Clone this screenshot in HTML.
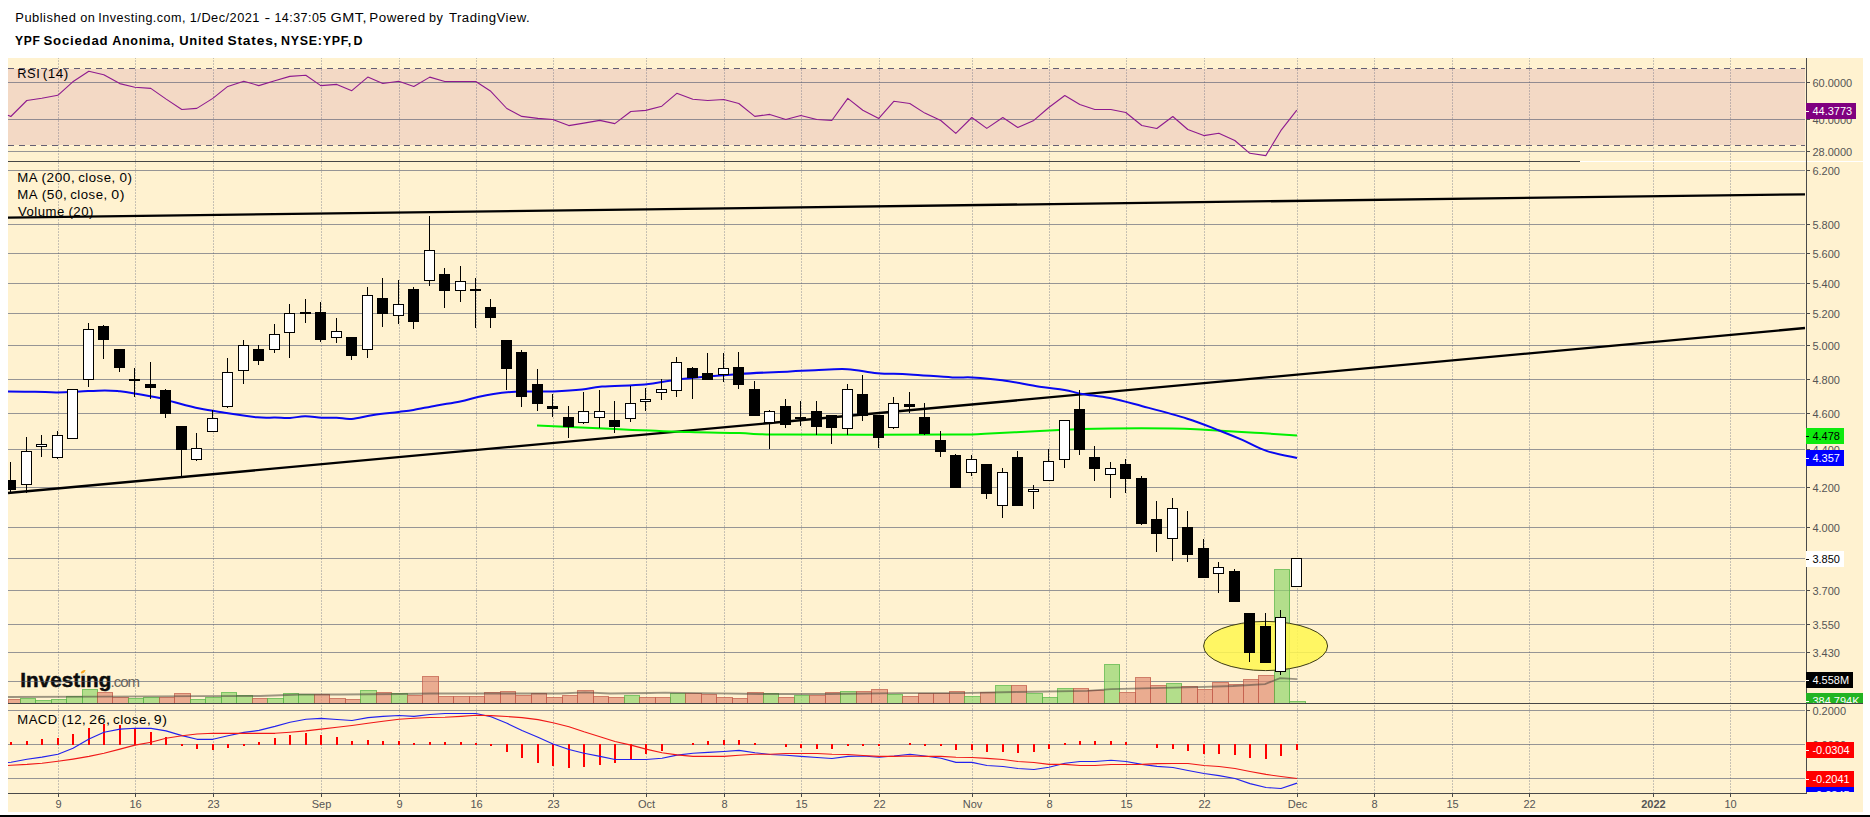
<!DOCTYPE html><html><head><meta charset="utf-8"><title>YPF chart</title><style>html,body{margin:0;padding:0;background:#fff;overflow:hidden}body{width:1870px;height:817px;position:relative}</style></head><body><svg width="1870" height="817" viewBox="0 0 1870 817" style="position:absolute;left:0;top:0;font-family:'Liberation Sans',Arial,sans-serif">
<rect x="0" y="0" width="1870" height="817" fill="#fff"/>
<rect x="8" y="58" width="1855" height="754" fill="#FFF2D0"/>
<rect x="0" y="815" width="1870" height="2" fill="#000"/>
<text x="20.3" y="686.6" font-size="20.6" font-weight="bold" letter-spacing="0.08" fill="#0c0c0c" stroke="#0c0c0c" stroke-width="0.5">Investing</text>
<text x="110.6" y="686.6" font-size="15" letter-spacing="-1.05" fill="#6a665c">.com</text>
<rect x="80.6" y="670.4" width="4.6" height="4.2" fill="#FFF2D0"/>
<path d="M80.8 672.6 C81.6 670.6 83.6 669.6 85.5 670 C85.2 671.8 83.6 673.4 81.2 673.6 Z" fill="#f9a51c"/>
<rect x="8" y="69" width="1797" height="76" fill="#F3D9C5"/>
<g stroke="#4b5473" stroke-opacity="0.37" stroke-width="1" stroke-dasharray="1.7 1.3" stroke-dashoffset="0.8">
<line x1="58.5" y1="58" x2="58.5" y2="793"/>
<line x1="135.5" y1="58" x2="135.5" y2="793"/>
<line x1="213.5" y1="58" x2="213.5" y2="793"/>
<line x1="321.5" y1="58" x2="321.5" y2="793"/>
<line x1="399.5" y1="58" x2="399.5" y2="793"/>
<line x1="476.5" y1="58" x2="476.5" y2="793"/>
<line x1="553.5" y1="58" x2="553.5" y2="793"/>
<line x1="646.5" y1="58" x2="646.5" y2="793"/>
<line x1="724.5" y1="58" x2="724.5" y2="793"/>
<line x1="801.5" y1="58" x2="801.5" y2="793"/>
<line x1="879.5" y1="58" x2="879.5" y2="793"/>
<line x1="972.5" y1="58" x2="972.5" y2="793"/>
<line x1="1049.5" y1="58" x2="1049.5" y2="793"/>
<line x1="1126.5" y1="58" x2="1126.5" y2="793"/>
<line x1="1204.5" y1="58" x2="1204.5" y2="793"/>
<line x1="1297.5" y1="58" x2="1297.5" y2="793"/>
<line x1="1374.5" y1="58" x2="1374.5" y2="793"/>
<line x1="1452.5" y1="58" x2="1452.5" y2="793"/>
<line x1="1529.5" y1="58" x2="1529.5" y2="793"/>
<line x1="1653.5" y1="58" x2="1653.5" y2="793"/>
<line x1="1730.5" y1="58" x2="1730.5" y2="793"/>
</g>
<rect x="8" y="82" width="1797" height="1" fill="rgba(80,86,110,0.6)"/>
<rect x="8" y="119" width="1797" height="1" fill="rgba(80,86,110,0.6)"/>
<rect x="8" y="151" width="1797" height="1" fill="rgba(80,86,110,0.6)"/>
<g stroke="#645f73" stroke-width="1" stroke-dasharray="6 5" shape-rendering="crispEdges">
<line x1="8" y1="68.5" x2="1805" y2="68.5"/><line x1="8" y1="145.5" x2="1805" y2="145.5"/></g>
<rect x="8" y="170" width="1797" height="1" fill="rgba(80,86,110,0.6)"/>
<rect x="8" y="224" width="1797" height="1" fill="rgba(80,86,110,0.6)"/>
<rect x="8" y="253" width="1797" height="1" fill="rgba(80,86,110,0.6)"/>
<rect x="8" y="283" width="1797" height="1" fill="rgba(80,86,110,0.6)"/>
<rect x="8" y="313" width="1797" height="1" fill="rgba(80,86,110,0.6)"/>
<rect x="8" y="345" width="1797" height="1" fill="rgba(80,86,110,0.6)"/>
<rect x="8" y="379" width="1797" height="1" fill="rgba(80,86,110,0.6)"/>
<rect x="8" y="413" width="1797" height="1" fill="rgba(80,86,110,0.6)"/>
<rect x="8" y="449" width="1797" height="1" fill="rgba(80,86,110,0.6)"/>
<rect x="8" y="487" width="1797" height="1" fill="rgba(80,86,110,0.6)"/>
<rect x="8" y="527" width="1797" height="1" fill="rgba(80,86,110,0.6)"/>
<rect x="8" y="558" width="1797" height="1" fill="rgba(80,86,110,0.6)"/>
<rect x="8" y="590" width="1797" height="1" fill="rgba(80,86,110,0.6)"/>
<rect x="8" y="624" width="1797" height="1" fill="rgba(80,86,110,0.6)"/>
<rect x="8" y="652" width="1797" height="1" fill="rgba(80,86,110,0.6)"/>
<rect x="8" y="681" width="1797" height="1" fill="rgba(80,86,110,0.6)"/>
<rect x="8" y="710" width="1797" height="1" fill="rgba(80,86,110,0.6)"/>
<rect x="8" y="744" width="1797" height="1" fill="rgba(80,86,110,0.6)"/>
<rect x="8" y="778" width="1797" height="1" fill="rgba(80,86,110,0.6)"/>
<text y="22" font-size="12" font-weight="normal" letter-spacing="0.45" fill="#000" xml:space="preserve"><tspan id="w0" x="15.38" textLength="60.99" lengthAdjust="spacingAndGlyphs">Published</tspan> <tspan id="w1" x="80.29" textLength="15.17" lengthAdjust="spacingAndGlyphs">on</tspan> <tspan id="w2" x="98.33" textLength="87.60" lengthAdjust="spacingAndGlyphs">Investing.com,</tspan> <tspan id="w3" x="189.78" textLength="70.21" lengthAdjust="spacingAndGlyphs">1/Dec/2021</tspan> <tspan id="w4" x="264.63" textLength="6.28" lengthAdjust="spacingAndGlyphs">-</tspan> <tspan id="w5" x="274.46" textLength="52.29" lengthAdjust="spacingAndGlyphs">14:37:05</tspan> <tspan id="w6" x="330.49" textLength="36.69" lengthAdjust="spacingAndGlyphs">GMT,</tspan> <tspan id="w7" x="369.27" textLength="56.31" lengthAdjust="spacingAndGlyphs">Powered</tspan> <tspan id="w8" x="428.99" textLength="14.30" lengthAdjust="spacingAndGlyphs">by</tspan> <tspan id="w9" x="448.94" textLength="81.24" lengthAdjust="spacingAndGlyphs">TradingView.</tspan></text>
<text y="45" font-size="12" font-weight="bold" letter-spacing="0.7" fill="#000" xml:space="preserve"><tspan id="w10" x="14.98" textLength="25.65" lengthAdjust="spacingAndGlyphs">YPF</tspan> <tspan id="w11" x="43.53" textLength="64.84" lengthAdjust="spacingAndGlyphs">Sociedad</tspan> <tspan id="w12" x="112.17" textLength="62.93" lengthAdjust="spacingAndGlyphs">Anonima,</tspan> <tspan id="w13" x="179.19" textLength="44.94" lengthAdjust="spacingAndGlyphs">United</tspan> <tspan id="w14" x="227.40" textLength="50.86" lengthAdjust="spacingAndGlyphs">States,</tspan> <tspan id="w15" x="281.14" textLength="70.72" lengthAdjust="spacingAndGlyphs">NYSE:YPF,</tspan> <tspan id="w16" x="353.51" textLength="9.74" lengthAdjust="spacingAndGlyphs">D</tspan></text>
<text y="78" font-size="12" font-weight="normal" letter-spacing="0.45" fill="#000" xml:space="preserve"><tspan id="w17" x="17.35" textLength="22.85" lengthAdjust="spacingAndGlyphs">RSI</tspan> <tspan id="w18" x="42.79" textLength="25.98" lengthAdjust="spacingAndGlyphs">(14)</tspan></text>
<text y="182" font-size="12" font-weight="normal" letter-spacing="0.45" fill="#000" xml:space="preserve"><tspan id="w19" x="17.31" textLength="20.06" lengthAdjust="spacingAndGlyphs">MA</tspan> <tspan id="w20" x="41.59" textLength="33.62" lengthAdjust="spacingAndGlyphs">(200,</tspan> <tspan id="w21" x="78.25" textLength="37.38" lengthAdjust="spacingAndGlyphs">close,</tspan> <tspan id="w22" x="119.64" textLength="13.00" lengthAdjust="spacingAndGlyphs">0)</tspan></text>
<text y="199" font-size="12" font-weight="normal" letter-spacing="0.45" fill="#000" xml:space="preserve"><tspan id="w23" x="17.31" textLength="20.06" lengthAdjust="spacingAndGlyphs">MA</tspan> <tspan id="w24" x="41.79" textLength="25.57" lengthAdjust="spacingAndGlyphs">(50,</tspan> <tspan id="w25" x="70.25" textLength="37.38" lengthAdjust="spacingAndGlyphs">close,</tspan> <tspan id="w26" x="111.29" textLength="13.63" lengthAdjust="spacingAndGlyphs">0)</tspan></text>
<text y="216" font-size="12" font-weight="normal" letter-spacing="0.45" fill="#000" xml:space="preserve"><tspan id="w27" x="18.07" textLength="46.72" lengthAdjust="spacingAndGlyphs">Volume</tspan> <tspan id="w28" x="68.43" textLength="25.51" lengthAdjust="spacingAndGlyphs">(20)</tspan></text>
<text y="724" font-size="12" font-weight="normal" letter-spacing="0.45" fill="#000" xml:space="preserve"><tspan id="w29" x="17.34" textLength="40.35" lengthAdjust="spacingAndGlyphs">MACD</tspan> <tspan id="w30" x="61.72" textLength="24.53" lengthAdjust="spacingAndGlyphs">(12,</tspan> <tspan id="w31" x="88.92" textLength="21.69" lengthAdjust="spacingAndGlyphs">26,</tspan> <tspan id="w32" x="113.11" textLength="38.16" lengthAdjust="spacingAndGlyphs">close,</tspan> <tspan id="w33" x="153.88" textLength="13.64" lengthAdjust="spacingAndGlyphs">9)</tspan></text>
<g shape-rendering="crispEdges">
<rect x="8.5" y="699.5" width="12" height="4" fill="#e08a72" fill-opacity="0.68" stroke="#c4604e" stroke-opacity="0.8" stroke-width="1"/>
<rect x="20.5" y="698.5" width="15" height="5" fill="#8fd46a" fill-opacity="0.68" stroke="#5cb84a" stroke-opacity="0.8" stroke-width="1"/>
<rect x="35.5" y="700.5" width="16" height="3" fill="#8fd46a" fill-opacity="0.68" stroke="#5cb84a" stroke-opacity="0.8" stroke-width="1"/>
<rect x="51.5" y="699.5" width="15" height="4" fill="#8fd46a" fill-opacity="0.68" stroke="#5cb84a" stroke-opacity="0.8" stroke-width="1"/>
<rect x="66.5" y="696.5" width="16" height="7" fill="#8fd46a" fill-opacity="0.68" stroke="#5cb84a" stroke-opacity="0.8" stroke-width="1"/>
<rect x="82.5" y="689.5" width="15" height="14" fill="#8fd46a" fill-opacity="0.68" stroke="#5cb84a" stroke-opacity="0.8" stroke-width="1"/>
<rect x="97.5" y="692.5" width="15" height="11" fill="#e08a72" fill-opacity="0.68" stroke="#c4604e" stroke-opacity="0.8" stroke-width="1"/>
<rect x="112.5" y="697.5" width="16" height="6" fill="#e08a72" fill-opacity="0.68" stroke="#c4604e" stroke-opacity="0.8" stroke-width="1"/>
<rect x="128.5" y="698.5" width="15" height="5" fill="#8fd46a" fill-opacity="0.68" stroke="#5cb84a" stroke-opacity="0.8" stroke-width="1"/>
<rect x="143.5" y="697.5" width="16" height="6" fill="#8fd46a" fill-opacity="0.68" stroke="#5cb84a" stroke-opacity="0.8" stroke-width="1"/>
<rect x="159.5" y="697.5" width="15" height="6" fill="#e08a72" fill-opacity="0.68" stroke="#c4604e" stroke-opacity="0.8" stroke-width="1"/>
<rect x="174.5" y="693.5" width="16" height="10" fill="#e08a72" fill-opacity="0.68" stroke="#c4604e" stroke-opacity="0.8" stroke-width="1"/>
<rect x="190.5" y="699.5" width="15" height="4" fill="#8fd46a" fill-opacity="0.68" stroke="#5cb84a" stroke-opacity="0.8" stroke-width="1"/>
<rect x="205.5" y="697.5" width="16" height="6" fill="#8fd46a" fill-opacity="0.68" stroke="#5cb84a" stroke-opacity="0.8" stroke-width="1"/>
<rect x="221.5" y="692.5" width="15" height="11" fill="#8fd46a" fill-opacity="0.68" stroke="#5cb84a" stroke-opacity="0.8" stroke-width="1"/>
<rect x="236.5" y="695.5" width="16" height="8" fill="#8fd46a" fill-opacity="0.68" stroke="#5cb84a" stroke-opacity="0.8" stroke-width="1"/>
<rect x="252.5" y="698.5" width="15" height="5" fill="#e08a72" fill-opacity="0.68" stroke="#c4604e" stroke-opacity="0.8" stroke-width="1"/>
<rect x="267.5" y="698.5" width="16" height="5" fill="#8fd46a" fill-opacity="0.68" stroke="#5cb84a" stroke-opacity="0.8" stroke-width="1"/>
<rect x="283.5" y="693.5" width="15" height="10" fill="#8fd46a" fill-opacity="0.68" stroke="#5cb84a" stroke-opacity="0.8" stroke-width="1"/>
<rect x="298.5" y="694.5" width="16" height="9" fill="#8fd46a" fill-opacity="0.68" stroke="#5cb84a" stroke-opacity="0.8" stroke-width="1"/>
<rect x="314.5" y="694.5" width="15" height="9" fill="#e08a72" fill-opacity="0.68" stroke="#c4604e" stroke-opacity="0.8" stroke-width="1"/>
<rect x="329.5" y="698.5" width="16" height="5" fill="#e08a72" fill-opacity="0.68" stroke="#c4604e" stroke-opacity="0.8" stroke-width="1"/>
<rect x="345.5" y="699.5" width="15" height="4" fill="#e08a72" fill-opacity="0.68" stroke="#c4604e" stroke-opacity="0.8" stroke-width="1"/>
<rect x="360.5" y="690.5" width="16" height="13" fill="#8fd46a" fill-opacity="0.68" stroke="#5cb84a" stroke-opacity="0.8" stroke-width="1"/>
<rect x="376.5" y="692.5" width="15" height="11" fill="#e08a72" fill-opacity="0.68" stroke="#c4604e" stroke-opacity="0.8" stroke-width="1"/>
<rect x="391.5" y="693.5" width="16" height="10" fill="#8fd46a" fill-opacity="0.68" stroke="#5cb84a" stroke-opacity="0.8" stroke-width="1"/>
<rect x="407.5" y="695.5" width="15" height="8" fill="#e08a72" fill-opacity="0.68" stroke="#c4604e" stroke-opacity="0.8" stroke-width="1"/>
<rect x="422.5" y="676.5" width="16" height="27" fill="#e08a72" fill-opacity="0.68" stroke="#c4604e" stroke-opacity="0.8" stroke-width="1"/>
<rect x="438.5" y="696.5" width="15" height="7" fill="#e08a72" fill-opacity="0.68" stroke="#c4604e" stroke-opacity="0.8" stroke-width="1"/>
<rect x="453.5" y="696.5" width="16" height="7" fill="#e08a72" fill-opacity="0.68" stroke="#c4604e" stroke-opacity="0.8" stroke-width="1"/>
<rect x="469.5" y="696.5" width="15" height="7" fill="#e08a72" fill-opacity="0.68" stroke="#c4604e" stroke-opacity="0.8" stroke-width="1"/>
<rect x="484.5" y="692.5" width="16" height="11" fill="#e08a72" fill-opacity="0.68" stroke="#c4604e" stroke-opacity="0.8" stroke-width="1"/>
<rect x="500.5" y="691.5" width="15" height="12" fill="#e08a72" fill-opacity="0.68" stroke="#c4604e" stroke-opacity="0.8" stroke-width="1"/>
<rect x="515.5" y="695.5" width="16" height="8" fill="#e08a72" fill-opacity="0.68" stroke="#c4604e" stroke-opacity="0.8" stroke-width="1"/>
<rect x="531.5" y="693.5" width="15" height="10" fill="#e08a72" fill-opacity="0.68" stroke="#c4604e" stroke-opacity="0.8" stroke-width="1"/>
<rect x="546.5" y="697.5" width="16" height="6" fill="#e08a72" fill-opacity="0.68" stroke="#c4604e" stroke-opacity="0.8" stroke-width="1"/>
<rect x="562.5" y="695.5" width="15" height="8" fill="#e08a72" fill-opacity="0.68" stroke="#c4604e" stroke-opacity="0.8" stroke-width="1"/>
<rect x="577.5" y="690.5" width="16" height="13" fill="#e08a72" fill-opacity="0.68" stroke="#c4604e" stroke-opacity="0.8" stroke-width="1"/>
<rect x="593.5" y="696.5" width="15" height="7" fill="#e08a72" fill-opacity="0.68" stroke="#c4604e" stroke-opacity="0.8" stroke-width="1"/>
<rect x="608.5" y="697.5" width="16" height="6" fill="#e08a72" fill-opacity="0.68" stroke="#c4604e" stroke-opacity="0.8" stroke-width="1"/>
<rect x="624.5" y="695.5" width="15" height="8" fill="#8fd46a" fill-opacity="0.68" stroke="#5cb84a" stroke-opacity="0.8" stroke-width="1"/>
<rect x="639.5" y="697.5" width="16" height="6" fill="#e08a72" fill-opacity="0.68" stroke="#c4604e" stroke-opacity="0.8" stroke-width="1"/>
<rect x="655.5" y="697.5" width="15" height="6" fill="#e08a72" fill-opacity="0.68" stroke="#c4604e" stroke-opacity="0.8" stroke-width="1"/>
<rect x="670.5" y="693.5" width="15" height="10" fill="#8fd46a" fill-opacity="0.68" stroke="#5cb84a" stroke-opacity="0.8" stroke-width="1"/>
<rect x="685.5" y="693.5" width="16" height="10" fill="#e08a72" fill-opacity="0.68" stroke="#c4604e" stroke-opacity="0.8" stroke-width="1"/>
<rect x="701.5" y="694.5" width="15" height="9" fill="#e08a72" fill-opacity="0.68" stroke="#c4604e" stroke-opacity="0.8" stroke-width="1"/>
<rect x="716.5" y="697.5" width="16" height="6" fill="#e08a72" fill-opacity="0.68" stroke="#c4604e" stroke-opacity="0.8" stroke-width="1"/>
<rect x="732.5" y="698.5" width="15" height="5" fill="#e08a72" fill-opacity="0.68" stroke="#c4604e" stroke-opacity="0.8" stroke-width="1"/>
<rect x="747.5" y="692.5" width="16" height="11" fill="#e08a72" fill-opacity="0.68" stroke="#c4604e" stroke-opacity="0.8" stroke-width="1"/>
<rect x="763.5" y="693.5" width="15" height="10" fill="#8fd46a" fill-opacity="0.68" stroke="#5cb84a" stroke-opacity="0.8" stroke-width="1"/>
<rect x="778.5" y="697.5" width="16" height="6" fill="#e08a72" fill-opacity="0.68" stroke="#c4604e" stroke-opacity="0.8" stroke-width="1"/>
<rect x="794.5" y="695.5" width="15" height="8" fill="#8fd46a" fill-opacity="0.68" stroke="#5cb84a" stroke-opacity="0.8" stroke-width="1"/>
<rect x="809.5" y="695.5" width="16" height="8" fill="#e08a72" fill-opacity="0.68" stroke="#c4604e" stroke-opacity="0.8" stroke-width="1"/>
<rect x="825.5" y="692.5" width="15" height="11" fill="#e08a72" fill-opacity="0.68" stroke="#c4604e" stroke-opacity="0.8" stroke-width="1"/>
<rect x="840.5" y="691.5" width="16" height="12" fill="#8fd46a" fill-opacity="0.68" stroke="#5cb84a" stroke-opacity="0.8" stroke-width="1"/>
<rect x="856.5" y="691.5" width="15" height="12" fill="#e08a72" fill-opacity="0.68" stroke="#c4604e" stroke-opacity="0.8" stroke-width="1"/>
<rect x="871.5" y="689.5" width="16" height="14" fill="#e08a72" fill-opacity="0.68" stroke="#c4604e" stroke-opacity="0.8" stroke-width="1"/>
<rect x="887.5" y="694.5" width="15" height="9" fill="#8fd46a" fill-opacity="0.68" stroke="#5cb84a" stroke-opacity="0.8" stroke-width="1"/>
<rect x="902.5" y="696.5" width="16" height="7" fill="#e08a72" fill-opacity="0.68" stroke="#c4604e" stroke-opacity="0.8" stroke-width="1"/>
<rect x="918.5" y="693.5" width="15" height="10" fill="#e08a72" fill-opacity="0.68" stroke="#c4604e" stroke-opacity="0.8" stroke-width="1"/>
<rect x="933.5" y="693.5" width="16" height="10" fill="#e08a72" fill-opacity="0.68" stroke="#c4604e" stroke-opacity="0.8" stroke-width="1"/>
<rect x="949.5" y="691.5" width="15" height="12" fill="#e08a72" fill-opacity="0.68" stroke="#c4604e" stroke-opacity="0.8" stroke-width="1"/>
<rect x="964.5" y="696.5" width="16" height="7" fill="#8fd46a" fill-opacity="0.68" stroke="#5cb84a" stroke-opacity="0.8" stroke-width="1"/>
<rect x="980.5" y="692.5" width="15" height="11" fill="#e08a72" fill-opacity="0.68" stroke="#c4604e" stroke-opacity="0.8" stroke-width="1"/>
<rect x="995.5" y="685.5" width="16" height="18" fill="#8fd46a" fill-opacity="0.68" stroke="#5cb84a" stroke-opacity="0.8" stroke-width="1"/>
<rect x="1011.5" y="685.5" width="15" height="18" fill="#e08a72" fill-opacity="0.68" stroke="#c4604e" stroke-opacity="0.8" stroke-width="1"/>
<rect x="1026.5" y="693.5" width="16" height="10" fill="#8fd46a" fill-opacity="0.68" stroke="#5cb84a" stroke-opacity="0.8" stroke-width="1"/>
<rect x="1042.5" y="697.5" width="15" height="6" fill="#8fd46a" fill-opacity="0.68" stroke="#5cb84a" stroke-opacity="0.8" stroke-width="1"/>
<rect x="1057.5" y="688.5" width="16" height="15" fill="#8fd46a" fill-opacity="0.68" stroke="#5cb84a" stroke-opacity="0.8" stroke-width="1"/>
<rect x="1073.5" y="688.5" width="15" height="15" fill="#e08a72" fill-opacity="0.68" stroke="#c4604e" stroke-opacity="0.8" stroke-width="1"/>
<rect x="1088.5" y="690.5" width="16" height="13" fill="#e08a72" fill-opacity="0.68" stroke="#c4604e" stroke-opacity="0.8" stroke-width="1"/>
<rect x="1104.5" y="664.5" width="15" height="39" fill="#8fd46a" fill-opacity="0.68" stroke="#5cb84a" stroke-opacity="0.8" stroke-width="1"/>
<rect x="1119.5" y="692.5" width="16" height="11" fill="#e08a72" fill-opacity="0.68" stroke="#c4604e" stroke-opacity="0.8" stroke-width="1"/>
<rect x="1135.5" y="677.5" width="15" height="26" fill="#e08a72" fill-opacity="0.68" stroke="#c4604e" stroke-opacity="0.8" stroke-width="1"/>
<rect x="1150.5" y="685.5" width="16" height="18" fill="#e08a72" fill-opacity="0.68" stroke="#c4604e" stroke-opacity="0.8" stroke-width="1"/>
<rect x="1166.5" y="683.5" width="15" height="20" fill="#8fd46a" fill-opacity="0.68" stroke="#5cb84a" stroke-opacity="0.8" stroke-width="1"/>
<rect x="1181.5" y="686.5" width="16" height="17" fill="#e08a72" fill-opacity="0.68" stroke="#c4604e" stroke-opacity="0.8" stroke-width="1"/>
<rect x="1197.5" y="689.5" width="15" height="14" fill="#e08a72" fill-opacity="0.68" stroke="#c4604e" stroke-opacity="0.8" stroke-width="1"/>
<rect x="1212.5" y="682.5" width="16" height="21" fill="#e08a72" fill-opacity="0.68" stroke="#c4604e" stroke-opacity="0.8" stroke-width="1"/>
<rect x="1228.5" y="684.5" width="15" height="19" fill="#e08a72" fill-opacity="0.68" stroke="#c4604e" stroke-opacity="0.8" stroke-width="1"/>
<rect x="1243.5" y="679.5" width="15" height="24" fill="#e08a72" fill-opacity="0.68" stroke="#c4604e" stroke-opacity="0.8" stroke-width="1"/>
<rect x="1258.5" y="675.5" width="16" height="28" fill="#e08a72" fill-opacity="0.68" stroke="#c4604e" stroke-opacity="0.8" stroke-width="1"/>
<rect x="1274.5" y="569.5" width="15" height="134" fill="#8fd46a" fill-opacity="0.68" stroke="#5cb84a" stroke-opacity="0.8" stroke-width="1"/>
<rect x="1289.5" y="701.5" width="16" height="2" fill="#8fd46a" fill-opacity="0.68" stroke="#5cb84a" stroke-opacity="0.8" stroke-width="1"/>
</g>
<polyline fill="none" stroke="#4a473e" stroke-opacity="0.55" stroke-width="1.8" points="8,697 100,696.6 200,696.2 260,696 300,694.5 340,694.5 400,694 430,693.5 560,693.5 585,692.3 610,693.5 650,693 665,692.6 700,693.2 760,694 830,694 900,693.2 960,693.2 1015,692 1087,690.8 1111,689.2 1142,688.3 1196,687.2 1233,686 1265,684.1 1280,678.1 1297,679.2"/>
<ellipse cx="1265.6" cy="646" rx="62" ry="24.6" fill="#fff750" fill-opacity="0.86" stroke="#3c3a18" stroke-width="1"/>
<line x1="8" y1="217.6" x2="1805" y2="194.3" stroke="#000" stroke-width="2.3"/>
<line x1="8" y1="493" x2="1805" y2="328" stroke="#000" stroke-width="2.3"/>
<path d="M537,425.4 C543.8,425.7 561.0,426.5 575,427.2 C589.0,427.9 601.3,428.5 614.8,429.1 C628.3,429.7 636.5,430.1 650,430.6 C663.5,431.1 673.6,431.7 689.7,432.1 C705.8,432.6 722.5,432.7 739.6,433.1 C756.7,433.6 746.3,434.3 784.6,434.6 C822.9,434.9 915.4,434.8 952.3,434.6 C989.2,434.4 974.0,434.0 989.7,433.4 C1005.4,432.8 1023.9,431.8 1039.6,431.1 C1055.3,430.4 1064.3,429.8 1077,429.3 C1089.7,428.8 1092.8,428.6 1110,428.4 C1127.2,428.2 1155.3,428.2 1172.4,428.4 C1189.5,428.6 1190.0,428.9 1204.8,429.7 C1219.6,430.5 1238.1,431.7 1254.7,432.7 C1271.3,433.7 1289.4,434.9 1297,435.4" fill="none" stroke="#00f000" stroke-width="2" stroke-linecap="butt"/>
<path d="M8,391.6 C12.9,391.6 26.1,391.7 35,391.8 C43.9,391.9 49.3,392.5 57.4,392.4 C65.5,392.3 71.5,391.9 80,391.5 C88.5,391.1 97.6,390.4 104.8,390.4 C112.0,390.4 114.6,390.8 120,391.3 C125.4,391.8 127.6,392.2 134.8,393.4 C142.0,394.6 152.6,396.5 159.8,398.1 C167.0,399.7 167.5,400.4 174.7,402.3 C181.9,404.2 190.7,406.7 199.7,408.6 C208.7,410.5 214.4,411.2 224.7,412.8 C235.0,414.4 248.0,416.4 257.1,417.3 C266.2,418.2 269.1,417.5 275,417.6 C280.9,417.7 284.6,418.3 290,418 C295.4,417.7 299.3,416.3 305,416.2 C310.7,416.1 316.0,417.4 321.7,417.7 C327.4,418.0 331.3,417.5 336.7,417.7 C342.1,417.9 345.1,419.4 351.7,418.9 C358.3,418.4 365.0,416.2 373.4,415 C381.8,413.8 391.2,412.9 398.4,412 C405.6,411.1 406.6,411.2 413.5,410 C420.4,408.8 428.4,406.9 436.8,405.4 C445.2,403.9 453.0,402.9 460.2,401.4 C467.4,399.9 470.9,398.6 476.9,397.2 C482.9,395.8 486.6,394.9 493.5,393.9 C500.4,392.9 507.4,392.1 515.2,391.7 C523.0,391.2 530.1,391.5 537,391.4 C543.9,391.3 545.5,391.8 553.6,391.4 C561.7,391.0 573.3,390.3 582,389.4 C590.7,388.5 590.7,387.5 602,386.6 C613.3,385.7 632.6,385.5 644.8,384.4 C657.0,383.3 661.6,381.8 669.7,380.7 C677.8,379.6 677.1,379.4 689.7,378.2 C702.3,377.0 721.5,375.1 739.6,373.9 C757.7,372.7 776.4,372.2 790,371.5 C803.6,370.8 804.7,370.6 815,370.2 C825.3,369.8 836.2,368.7 847.4,369.2 C858.6,369.7 866.2,372.3 877.4,373.2 C888.6,374.1 896.3,373.6 909.8,374.4 C923.3,375.2 941.1,376.9 952.3,377.4 C963.5,377.9 963.2,376.9 972.2,377.4 C981.2,377.9 990.1,378.5 1002.2,380.2 C1014.3,381.9 1028.4,385.0 1039.6,386.7 C1050.8,388.4 1057.0,388.6 1064.6,389.9 C1072.2,391.2 1073.8,392.4 1082,393.9 C1090.2,395.4 1099.1,395.8 1110,398 C1120.9,400.2 1128.5,402.5 1142.4,406.2 C1156.3,409.9 1173.4,414.3 1187.3,418.7 C1201.2,423.1 1209.9,426.9 1219.8,430.7 C1229.7,434.5 1233.8,436.2 1242.3,439.9 C1250.8,443.6 1257.4,447.9 1267.2,451.1 C1277.0,454.3 1291.6,456.7 1297,457.9" fill="none" stroke="#0808f0" stroke-width="2" stroke-linecap="butt"/>
<g shape-rendering="crispEdges">
<rect x="10" y="462" width="1" height="32" fill="#000"/>
<rect x="8" y="480" width="8" height="10" fill="#000"/>
<rect x="26" y="437" width="1" height="56" fill="#000"/>
<rect x="21" y="451" width="11" height="34" fill="#000"/>
<rect x="22" y="452" width="9" height="32" fill="#fff"/>
<rect x="41" y="435" width="1" height="22" fill="#000"/>
<rect x="36" y="444" width="11" height="3" fill="#000"/>
<rect x="37" y="445" width="9" height="1" fill="#fff"/>
<rect x="57" y="431" width="1" height="28" fill="#000"/>
<rect x="52" y="435" width="11" height="23" fill="#000"/>
<rect x="53" y="436" width="9" height="21" fill="#fff"/>
<rect x="72" y="389" width="1" height="50" fill="#000"/>
<rect x="67" y="389" width="11" height="50" fill="#000"/>
<rect x="68" y="390" width="9" height="48" fill="#fff"/>
<rect x="88" y="323" width="1" height="64" fill="#000"/>
<rect x="83" y="329" width="11" height="51" fill="#000"/>
<rect x="84" y="330" width="9" height="49" fill="#fff"/>
<rect x="103" y="325" width="1" height="34" fill="#000"/>
<rect x="98" y="326" width="11" height="14" fill="#000"/>
<rect x="119" y="349" width="1" height="23" fill="#000"/>
<rect x="114" y="349" width="11" height="19" fill="#000"/>
<rect x="134" y="368" width="1" height="29" fill="#000"/>
<rect x="129" y="379" width="11" height="2" fill="#000"/>
<rect x="150" y="362" width="1" height="37" fill="#000"/>
<rect x="145" y="384" width="11" height="4" fill="#000"/>
<rect x="165" y="389" width="1" height="29" fill="#000"/>
<rect x="160" y="390" width="11" height="24" fill="#000"/>
<rect x="181" y="426" width="1" height="51" fill="#000"/>
<rect x="176" y="426" width="11" height="24" fill="#000"/>
<rect x="196" y="433" width="1" height="28" fill="#000"/>
<rect x="191" y="448" width="11" height="12" fill="#000"/>
<rect x="192" y="449" width="9" height="10" fill="#fff"/>
<rect x="212" y="410" width="1" height="22" fill="#000"/>
<rect x="207" y="418" width="11" height="14" fill="#000"/>
<rect x="208" y="419" width="9" height="12" fill="#fff"/>
<rect x="227" y="358" width="1" height="50" fill="#000"/>
<rect x="222" y="372" width="11" height="35" fill="#000"/>
<rect x="223" y="373" width="9" height="33" fill="#fff"/>
<rect x="243" y="340" width="1" height="44" fill="#000"/>
<rect x="238" y="345" width="11" height="26" fill="#000"/>
<rect x="239" y="346" width="9" height="24" fill="#fff"/>
<rect x="258" y="345" width="1" height="20" fill="#000"/>
<rect x="253" y="349" width="11" height="12" fill="#000"/>
<rect x="274" y="324" width="1" height="29" fill="#000"/>
<rect x="269" y="334" width="11" height="16" fill="#000"/>
<rect x="270" y="335" width="9" height="14" fill="#fff"/>
<rect x="289" y="304" width="1" height="54" fill="#000"/>
<rect x="284" y="313" width="11" height="20" fill="#000"/>
<rect x="285" y="314" width="9" height="18" fill="#fff"/>
<rect x="305" y="299" width="1" height="24" fill="#000"/>
<rect x="300" y="312" width="11" height="2" fill="#000"/>
<rect x="320" y="302" width="1" height="40" fill="#000"/>
<rect x="315" y="312" width="11" height="28" fill="#000"/>
<rect x="336" y="318" width="1" height="25" fill="#000"/>
<rect x="331" y="331" width="11" height="7" fill="#000"/>
<rect x="332" y="332" width="9" height="5" fill="#fff"/>
<rect x="351" y="337" width="1" height="23" fill="#000"/>
<rect x="346" y="337" width="11" height="19" fill="#000"/>
<rect x="367" y="287" width="1" height="71" fill="#000"/>
<rect x="362" y="295" width="11" height="55" fill="#000"/>
<rect x="363" y="296" width="9" height="53" fill="#fff"/>
<rect x="382" y="278" width="1" height="49" fill="#000"/>
<rect x="377" y="298" width="11" height="16" fill="#000"/>
<rect x="398" y="280" width="1" height="44" fill="#000"/>
<rect x="393" y="304" width="11" height="12" fill="#000"/>
<rect x="394" y="305" width="9" height="10" fill="#fff"/>
<rect x="413" y="287" width="1" height="42" fill="#000"/>
<rect x="408" y="289" width="11" height="33" fill="#000"/>
<rect x="429" y="216" width="1" height="70" fill="#000"/>
<rect x="424" y="250" width="11" height="31" fill="#000"/>
<rect x="425" y="251" width="9" height="29" fill="#fff"/>
<rect x="444" y="268" width="1" height="40" fill="#000"/>
<rect x="439" y="274" width="11" height="17" fill="#000"/>
<rect x="460" y="266" width="1" height="36" fill="#000"/>
<rect x="455" y="281" width="11" height="10" fill="#000"/>
<rect x="456" y="282" width="9" height="8" fill="#fff"/>
<rect x="475" y="278" width="1" height="50" fill="#000"/>
<rect x="470" y="289" width="11" height="2" fill="#000"/>
<rect x="490" y="299" width="1" height="29" fill="#000"/>
<rect x="485" y="307" width="11" height="11" fill="#000"/>
<rect x="506" y="340" width="1" height="50" fill="#000"/>
<rect x="501" y="340" width="11" height="29" fill="#000"/>
<rect x="521" y="350" width="1" height="57" fill="#000"/>
<rect x="516" y="352" width="11" height="45" fill="#000"/>
<rect x="537" y="369" width="1" height="42" fill="#000"/>
<rect x="532" y="384" width="11" height="20" fill="#000"/>
<rect x="552" y="394" width="1" height="23" fill="#000"/>
<rect x="547" y="406" width="11" height="3" fill="#000"/>
<rect x="568" y="406" width="1" height="32" fill="#000"/>
<rect x="563" y="417" width="11" height="10" fill="#000"/>
<rect x="583" y="392" width="1" height="32" fill="#000"/>
<rect x="578" y="411" width="11" height="12" fill="#000"/>
<rect x="579" y="412" width="9" height="10" fill="#fff"/>
<rect x="599" y="390" width="1" height="38" fill="#000"/>
<rect x="594" y="411" width="11" height="7" fill="#000"/>
<rect x="595" y="412" width="9" height="5" fill="#fff"/>
<rect x="614" y="401" width="1" height="32" fill="#000"/>
<rect x="609" y="420" width="11" height="7" fill="#000"/>
<rect x="630" y="386" width="1" height="36" fill="#000"/>
<rect x="625" y="403" width="11" height="16" fill="#000"/>
<rect x="626" y="404" width="9" height="14" fill="#fff"/>
<rect x="645" y="388" width="1" height="23" fill="#000"/>
<rect x="640" y="399" width="11" height="3" fill="#000"/>
<rect x="641" y="400" width="9" height="1" fill="#fff"/>
<rect x="661" y="379" width="1" height="21" fill="#000"/>
<rect x="656" y="389" width="11" height="4" fill="#000"/>
<rect x="657" y="390" width="9" height="2" fill="#fff"/>
<rect x="676" y="357" width="1" height="40" fill="#000"/>
<rect x="671" y="362" width="11" height="29" fill="#000"/>
<rect x="672" y="363" width="9" height="27" fill="#fff"/>
<rect x="692" y="367" width="1" height="32" fill="#000"/>
<rect x="687" y="368" width="11" height="10" fill="#000"/>
<rect x="707" y="353" width="1" height="27" fill="#000"/>
<rect x="702" y="373" width="11" height="7" fill="#000"/>
<rect x="723" y="353" width="1" height="29" fill="#000"/>
<rect x="718" y="368" width="11" height="7" fill="#000"/>
<rect x="719" y="369" width="9" height="5" fill="#fff"/>
<rect x="738" y="352" width="1" height="37" fill="#000"/>
<rect x="733" y="367" width="11" height="18" fill="#000"/>
<rect x="754" y="381" width="1" height="35" fill="#000"/>
<rect x="749" y="389" width="11" height="27" fill="#000"/>
<rect x="769" y="410" width="1" height="39" fill="#000"/>
<rect x="764" y="411" width="11" height="12" fill="#000"/>
<rect x="765" y="412" width="9" height="10" fill="#fff"/>
<rect x="785" y="399" width="1" height="29" fill="#000"/>
<rect x="780" y="406" width="11" height="19" fill="#000"/>
<rect x="800" y="401" width="1" height="25" fill="#000"/>
<rect x="795" y="417" width="11" height="2" fill="#000"/>
<rect x="816" y="401" width="1" height="34" fill="#000"/>
<rect x="811" y="411" width="11" height="16" fill="#000"/>
<rect x="831" y="415" width="1" height="29" fill="#000"/>
<rect x="826" y="415" width="11" height="13" fill="#000"/>
<rect x="847" y="384" width="1" height="51" fill="#000"/>
<rect x="842" y="389" width="11" height="40" fill="#000"/>
<rect x="843" y="390" width="9" height="38" fill="#fff"/>
<rect x="862" y="375" width="1" height="46" fill="#000"/>
<rect x="857" y="394" width="11" height="22" fill="#000"/>
<rect x="878" y="415" width="1" height="33" fill="#000"/>
<rect x="873" y="415" width="11" height="23" fill="#000"/>
<rect x="893" y="397" width="1" height="32" fill="#000"/>
<rect x="888" y="403" width="11" height="25" fill="#000"/>
<rect x="889" y="404" width="9" height="23" fill="#fff"/>
<rect x="909" y="392" width="1" height="21" fill="#000"/>
<rect x="904" y="404" width="11" height="3" fill="#000"/>
<rect x="924" y="403" width="1" height="32" fill="#000"/>
<rect x="919" y="417" width="11" height="17" fill="#000"/>
<rect x="940" y="431" width="1" height="26" fill="#000"/>
<rect x="935" y="440" width="11" height="12" fill="#000"/>
<rect x="955" y="454" width="1" height="34" fill="#000"/>
<rect x="950" y="455" width="11" height="33" fill="#000"/>
<rect x="971" y="455" width="1" height="21" fill="#000"/>
<rect x="966" y="459" width="11" height="14" fill="#000"/>
<rect x="967" y="460" width="9" height="12" fill="#fff"/>
<rect x="986" y="464" width="1" height="35" fill="#000"/>
<rect x="981" y="464" width="11" height="30" fill="#000"/>
<rect x="1002" y="468" width="1" height="50" fill="#000"/>
<rect x="997" y="472" width="11" height="34" fill="#000"/>
<rect x="998" y="473" width="9" height="32" fill="#fff"/>
<rect x="1017" y="451" width="1" height="55" fill="#000"/>
<rect x="1012" y="457" width="11" height="49" fill="#000"/>
<rect x="1033" y="485" width="1" height="24" fill="#000"/>
<rect x="1028" y="489" width="11" height="3" fill="#000"/>
<rect x="1029" y="490" width="9" height="1" fill="#fff"/>
<rect x="1048" y="449" width="1" height="32" fill="#000"/>
<rect x="1043" y="461" width="11" height="20" fill="#000"/>
<rect x="1044" y="462" width="9" height="18" fill="#fff"/>
<rect x="1064" y="420" width="1" height="48" fill="#000"/>
<rect x="1059" y="420" width="11" height="40" fill="#000"/>
<rect x="1060" y="421" width="9" height="38" fill="#fff"/>
<rect x="1079" y="390" width="1" height="65" fill="#000"/>
<rect x="1074" y="409" width="11" height="41" fill="#000"/>
<rect x="1094" y="446" width="1" height="35" fill="#000"/>
<rect x="1089" y="457" width="11" height="12" fill="#000"/>
<rect x="1110" y="462" width="1" height="36" fill="#000"/>
<rect x="1105" y="468" width="11" height="7" fill="#000"/>
<rect x="1106" y="469" width="9" height="5" fill="#fff"/>
<rect x="1125" y="459" width="1" height="34" fill="#000"/>
<rect x="1120" y="464" width="11" height="15" fill="#000"/>
<rect x="1141" y="476" width="1" height="49" fill="#000"/>
<rect x="1136" y="478" width="11" height="46" fill="#000"/>
<rect x="1156" y="501" width="1" height="51" fill="#000"/>
<rect x="1151" y="519" width="11" height="15" fill="#000"/>
<rect x="1172" y="498" width="1" height="63" fill="#000"/>
<rect x="1167" y="508" width="11" height="31" fill="#000"/>
<rect x="1168" y="509" width="9" height="29" fill="#fff"/>
<rect x="1187" y="511" width="1" height="51" fill="#000"/>
<rect x="1182" y="527" width="11" height="28" fill="#000"/>
<rect x="1203" y="539" width="1" height="39" fill="#000"/>
<rect x="1198" y="548" width="11" height="30" fill="#000"/>
<rect x="1218" y="562" width="1" height="31" fill="#000"/>
<rect x="1213" y="567" width="11" height="7" fill="#000"/>
<rect x="1214" y="568" width="9" height="5" fill="#fff"/>
<rect x="1234" y="569" width="1" height="33" fill="#000"/>
<rect x="1229" y="571" width="11" height="31" fill="#000"/>
<rect x="1249" y="613" width="1" height="49" fill="#000"/>
<rect x="1244" y="613" width="11" height="40" fill="#000"/>
<rect x="1265" y="613" width="1" height="50" fill="#000"/>
<rect x="1260" y="626" width="11" height="37" fill="#000"/>
<rect x="1280" y="610" width="1" height="65" fill="#000"/>
<rect x="1275" y="617" width="11" height="55" fill="#000"/>
<rect x="1276" y="618" width="9" height="53" fill="#fff"/>
<rect x="1296" y="558" width="1" height="29" fill="#000"/>
<rect x="1291" y="558" width="11" height="29" fill="#000"/>
<rect x="1292" y="559" width="9" height="27" fill="#fff"/>
</g>
<polyline fill="none" stroke="#8e1a8e" stroke-width="1.1" stroke-linejoin="round"  points="8,115.2 10.8,116.5 26.8,100.5 41.8,98.2 57.8,95.3 72.8,81.8 88.8,71.3 103.8,74.7 119.8,83.6 134.8,87.3 150.8,88.4 165.8,98.9 181.8,109.5 196.8,108.4 212.8,98.4 227.8,86.4 243.8,81.3 258.8,85.6 274.8,80.7 289.8,76.4 305.8,75.3 320.8,85.6 336.8,84.4 351.8,90.7 367.8,77.1 382.8,83.5 398.8,81.3 413.8,86.5 429.8,77.1 444.8,81.5 460.8,81.5 475.8,81.5 490.8,91.3 506.8,108.5 521.8,116.4 537.8,118.4 552.8,119.5 568.8,125.6 583.8,123.1 599.8,120.4 614.8,123.6 630.8,111.5 645.8,110.4 661.8,106.2 676.8,93.3 692.8,99.3 707.8,100.5 723.8,99.5 738.8,103.5 754.8,116.4 769.8,114.4 785.8,119.5 800.8,115.5 816.8,119.5 831.8,120.5 847.8,98.4 862.8,110.2 878.8,118.4 893.8,101.3 909.8,103.5 924.8,113.1 940.8,120.5 955.8,133.3 971.8,117.5 986.8,128.4 1002.8,117.5 1017.8,127.5 1033.8,120.4 1048.8,107.5 1064.8,95.5 1079.8,104.5 1094.8,109.5 1110.8,109.5 1125.8,112.5 1141.8,125.5 1156.8,128.5 1172.8,116.5 1187.8,129.5 1203.8,135.6 1218.8,133.3 1234.8,140.5 1249.8,153.3 1265.8,155.6 1280.8,130.7 1296.8,110.2"/>
<g shape-rendering="crispEdges" fill="#ff0000">
<rect x="10" y="742" width="2" height="3"/>
<rect x="26" y="741" width="2" height="4"/>
<rect x="41" y="739" width="2" height="6"/>
<rect x="57" y="738" width="2" height="7"/>
<rect x="72" y="734" width="2" height="11"/>
<rect x="88" y="728" width="2" height="17"/>
<rect x="103" y="724" width="2" height="21"/>
<rect x="119" y="725" width="2" height="20"/>
<rect x="134" y="728" width="2" height="17"/>
<rect x="150" y="732" width="2" height="13"/>
<rect x="165" y="737" width="2" height="8"/>
<rect x="181" y="744" width="2" height="2"/>
<rect x="196" y="744" width="2" height="5"/>
<rect x="212" y="744" width="2" height="6"/>
<rect x="227" y="744" width="2" height="4"/>
<rect x="243" y="744" width="2" height="2"/>
<rect x="258" y="742" width="2" height="3"/>
<rect x="274" y="738" width="2" height="7"/>
<rect x="289" y="735" width="2" height="10"/>
<rect x="305" y="733" width="2" height="12"/>
<rect x="320" y="735" width="2" height="10"/>
<rect x="336" y="737" width="2" height="8"/>
<rect x="351" y="741" width="2" height="4"/>
<rect x="367" y="740" width="2" height="5"/>
<rect x="382" y="741" width="2" height="4"/>
<rect x="398" y="741" width="2" height="4"/>
<rect x="413" y="743" width="2" height="2"/>
<rect x="429" y="742" width="2" height="3"/>
<rect x="444" y="742" width="2" height="3"/>
<rect x="460" y="742" width="2" height="3"/>
<rect x="475" y="743" width="2" height="2"/>
<rect x="490" y="744" width="2" height="2"/>
<rect x="506" y="744" width="2" height="8"/>
<rect x="521" y="744" width="2" height="14"/>
<rect x="537" y="744" width="2" height="19"/>
<rect x="552" y="744" width="2" height="22"/>
<rect x="568" y="744" width="2" height="24"/>
<rect x="583" y="744" width="2" height="23"/>
<rect x="599" y="744" width="2" height="21"/>
<rect x="614" y="744" width="2" height="19"/>
<rect x="630" y="744" width="2" height="15"/>
<rect x="645" y="744" width="2" height="10"/>
<rect x="661" y="744" width="2" height="7"/>
<rect x="692" y="743" width="2" height="2"/>
<rect x="707" y="741" width="2" height="4"/>
<rect x="723" y="740" width="2" height="5"/>
<rect x="738" y="740" width="2" height="5"/>
<rect x="754" y="743" width="2" height="2"/>
<rect x="785" y="744" width="2" height="3"/>
<rect x="800" y="744" width="2" height="4"/>
<rect x="816" y="744" width="2" height="5"/>
<rect x="831" y="744" width="2" height="5"/>
<rect x="847" y="744" width="2" height="2"/>
<rect x="862" y="744" width="2" height="2"/>
<rect x="878" y="744" width="2" height="2"/>
<rect x="909" y="743" width="2" height="2"/>
<rect x="924" y="744" width="2" height="2"/>
<rect x="940" y="744" width="2" height="2"/>
<rect x="955" y="744" width="2" height="6"/>
<rect x="971" y="744" width="2" height="6"/>
<rect x="986" y="744" width="2" height="8"/>
<rect x="1002" y="744" width="2" height="8"/>
<rect x="1017" y="744" width="2" height="9"/>
<rect x="1033" y="744" width="2" height="8"/>
<rect x="1048" y="744" width="2" height="5"/>
<rect x="1064" y="743" width="2" height="2"/>
<rect x="1079" y="741" width="2" height="4"/>
<rect x="1094" y="741" width="2" height="4"/>
<rect x="1110" y="741" width="2" height="4"/>
<rect x="1125" y="742" width="2" height="3"/>
<rect x="1156" y="744" width="2" height="4"/>
<rect x="1172" y="744" width="2" height="5"/>
<rect x="1187" y="744" width="2" height="7"/>
<rect x="1203" y="744" width="2" height="10"/>
<rect x="1218" y="744" width="2" height="10"/>
<rect x="1234" y="744" width="2" height="11"/>
<rect x="1249" y="744" width="2" height="14"/>
<rect x="1265" y="744" width="2" height="15"/>
<rect x="1280" y="744" width="2" height="12"/>
<rect x="1296" y="744" width="2" height="6"/>
</g>
<polyline fill="none" stroke="#2222ee" stroke-width="1.15" stroke-linejoin="round"  points="8,762.5 11.0,762.2 27.0,759.3 42.0,757.1 58.0,754.2 73.0,748.2 89.0,739.1 104.0,732.2 120.0,729.1 135.0,728.2 151.0,728.4 166.0,730.9 182.0,735.6 197.0,739.3 213.0,739.3 228.0,735.8 244.0,732.4 259.0,730.4 275.0,726.4 290.0,722.2 306.0,719.3 321.0,718.4 337.0,719.5 352.0,720.5 368.0,717.6 383.0,716.4 399.0,715.5 414.0,716.4 430.0,714.5 445.0,713.5 461.0,713.5 476.0,713.5 491.0,716.7 507.0,723.3 522.0,730.5 538.0,737.3 553.0,744 569.0,749.5 584.0,753.3 600.0,756.4 615.0,759.5 631.0,759.5 646.0,759.5 662.0,758.2 677.0,755.1 693.0,753.3 708.0,752.4 724.0,751.5 739.0,750.4 755.0,752.7 770.0,754.5 786.0,755.3 801.0,756.4 817.0,757.5 832.0,758.5 848.0,756.4 863.0,756 879.0,757.3 894.0,756 910.0,754.2 925.0,756 941.0,758.2 956.0,762.4 972.0,762.4 987.0,765.5 1003.0,766.5 1018.0,768.5 1034.0,769.5 1049.0,767.3 1065.0,763.3 1080.0,761.5 1095.0,761.5 1111.0,760.2 1126.0,761.5 1142.0,764.4 1157.0,766.4 1173.0,767.5 1188.0,770.5 1204.0,773.5 1219.0,775.6 1235.0,778.5 1250.0,783.6 1266.0,787.5 1281.0,788.5 1297.0,783.1"/>
<polyline fill="none" stroke="#f01818" stroke-width="1.15" stroke-linejoin="round"  points="8,765.5 11.0,765.2 27.0,764.4 42.0,763.3 58.0,761.3 73.0,759.1 89.0,756.4 104.0,753.3 120.0,749.1 135.0,745.1 151.0,742.2 166.0,738.2 182.0,735.8 197.0,734 213.0,733.3 228.0,733.3 244.0,733.3 259.0,733.3 275.0,733.3 290.0,732.2 306.0,730.9 321.0,729.1 337.0,727.3 352.0,725.5 368.0,723.3 383.0,721.3 399.0,719.3 414.0,718.2 430.0,717.5 445.0,717.3 461.0,716.4 476.0,715.3 491.0,715.6 507.0,716.5 522.0,717.6 538.0,719.6 553.0,722.7 569.0,726.7 584.0,731.8 600.0,736.7 615.0,741.5 631.0,745.1 646.0,749.1 662.0,752.7 677.0,754.9 693.0,756.4 708.0,756.4 724.0,756.4 739.0,755.3 755.0,754.2 770.0,754.2 786.0,753.5 801.0,753.5 817.0,753.5 832.0,754.2 848.0,754.5 863.0,755.5 879.0,756.4 894.0,756.4 910.0,756 925.0,756.4 941.0,756.4 956.0,757.3 972.0,757.5 987.0,758.4 1003.0,759.5 1018.0,761.5 1034.0,762.5 1049.0,764.4 1065.0,764.4 1080.0,765.5 1095.0,765.5 1111.0,764.5 1126.0,764.5 1142.0,764.4 1157.0,763.6 1173.0,763.5 1188.0,763.5 1204.0,765.5 1219.0,766.5 1235.0,768.5 1250.0,771.5 1266.0,774.4 1281.0,776.5 1297.0,778.5"/>
<rect x="8" y="161" width="1572" height="1" fill="#464646"/>
<rect x="1580" y="161" width="290" height="1" fill="#fff"/>
<rect x="8" y="793" width="1799" height="1" fill="#4a4a4a"/>
<rect x="1806" y="58" width="1" height="736" fill="#4a4a4a"/>
<rect x="58" y="794" width="1" height="3" fill="#4a4a4a"/>
<text x="58.5" y="808" font-size="11" text-anchor="middle" fill="#555">9</text>
<rect x="135" y="794" width="1" height="3" fill="#4a4a4a"/>
<text x="135.5" y="808" font-size="11" text-anchor="middle" fill="#555">16</text>
<rect x="213" y="794" width="1" height="3" fill="#4a4a4a"/>
<text x="213.5" y="808" font-size="11" text-anchor="middle" fill="#555">23</text>
<rect x="321" y="794" width="1" height="3" fill="#4a4a4a"/>
<text x="321.5" y="808" font-size="11" text-anchor="middle" fill="#555">Sep</text>
<rect x="399" y="794" width="1" height="3" fill="#4a4a4a"/>
<text x="399.5" y="808" font-size="11" text-anchor="middle" fill="#555">9</text>
<rect x="476" y="794" width="1" height="3" fill="#4a4a4a"/>
<text x="476.5" y="808" font-size="11" text-anchor="middle" fill="#555">16</text>
<rect x="553" y="794" width="1" height="3" fill="#4a4a4a"/>
<text x="553.5" y="808" font-size="11" text-anchor="middle" fill="#555">23</text>
<rect x="646" y="794" width="1" height="3" fill="#4a4a4a"/>
<text x="646.5" y="808" font-size="11" text-anchor="middle" fill="#555">Oct</text>
<rect x="724" y="794" width="1" height="3" fill="#4a4a4a"/>
<text x="724.5" y="808" font-size="11" text-anchor="middle" fill="#555">8</text>
<rect x="801" y="794" width="1" height="3" fill="#4a4a4a"/>
<text x="801.5" y="808" font-size="11" text-anchor="middle" fill="#555">15</text>
<rect x="879" y="794" width="1" height="3" fill="#4a4a4a"/>
<text x="879.5" y="808" font-size="11" text-anchor="middle" fill="#555">22</text>
<rect x="972" y="794" width="1" height="3" fill="#4a4a4a"/>
<text x="972.5" y="808" font-size="11" text-anchor="middle" fill="#555">Nov</text>
<rect x="1049" y="794" width="1" height="3" fill="#4a4a4a"/>
<text x="1049.5" y="808" font-size="11" text-anchor="middle" fill="#555">8</text>
<rect x="1126" y="794" width="1" height="3" fill="#4a4a4a"/>
<text x="1126.5" y="808" font-size="11" text-anchor="middle" fill="#555">15</text>
<rect x="1204" y="794" width="1" height="3" fill="#4a4a4a"/>
<text x="1204.5" y="808" font-size="11" text-anchor="middle" fill="#555">22</text>
<rect x="1297" y="794" width="1" height="3" fill="#4a4a4a"/>
<text x="1297.5" y="808" font-size="11" text-anchor="middle" fill="#555">Dec</text>
<rect x="1374" y="794" width="1" height="3" fill="#4a4a4a"/>
<text x="1374.5" y="808" font-size="11" text-anchor="middle" fill="#555">8</text>
<rect x="1452" y="794" width="1" height="3" fill="#4a4a4a"/>
<text x="1452.5" y="808" font-size="11" text-anchor="middle" fill="#555">15</text>
<rect x="1529" y="794" width="1" height="3" fill="#4a4a4a"/>
<text x="1529.5" y="808" font-size="11" text-anchor="middle" fill="#555">22</text>
<rect x="1653" y="794" width="1" height="3" fill="#4a4a4a"/>
<text x="1653.5" y="808" font-size="11" text-anchor="middle" fill="#555" font-weight="bold">2022</text>
<rect x="1730" y="794" width="1" height="3" fill="#4a4a4a"/>
<text x="1730.5" y="808" font-size="11" text-anchor="middle" fill="#555">10</text>
<rect x="1807" y="82" width="3" height="1" fill="#4a4a4a"/>
<text x="1812.4" y="86.5" font-size="11" fill="#555">60.0000</text>
<rect x="1807" y="119" width="3" height="1" fill="#4a4a4a"/>
<text x="1812.4" y="123.5" font-size="11" fill="#555">40.0000</text>
<rect x="1807" y="151" width="3" height="1" fill="#4a4a4a"/>
<text x="1812.4" y="155.5" font-size="11" fill="#555">28.0000</text>
<rect x="1807" y="170" width="3" height="1" fill="#4a4a4a"/>
<text x="1812.4" y="174.5" font-size="11" fill="#555">6.200</text>
<rect x="1807" y="224" width="3" height="1" fill="#4a4a4a"/>
<text x="1812.4" y="228.5" font-size="11" fill="#555">5.800</text>
<rect x="1807" y="253" width="3" height="1" fill="#4a4a4a"/>
<text x="1812.4" y="257.5" font-size="11" fill="#555">5.600</text>
<rect x="1807" y="283" width="3" height="1" fill="#4a4a4a"/>
<text x="1812.4" y="287.5" font-size="11" fill="#555">5.400</text>
<rect x="1807" y="313" width="3" height="1" fill="#4a4a4a"/>
<text x="1812.4" y="317.5" font-size="11" fill="#555">5.200</text>
<rect x="1807" y="345" width="3" height="1" fill="#4a4a4a"/>
<text x="1812.4" y="349.5" font-size="11" fill="#555">5.000</text>
<rect x="1807" y="379" width="3" height="1" fill="#4a4a4a"/>
<text x="1812.4" y="383.5" font-size="11" fill="#555">4.800</text>
<rect x="1807" y="413" width="3" height="1" fill="#4a4a4a"/>
<text x="1812.4" y="417.5" font-size="11" fill="#555">4.600</text>
<rect x="1807" y="449" width="3" height="1" fill="#4a4a4a"/>
<text x="1812.4" y="453.5" font-size="11" fill="#555">4.400</text>
<rect x="1807" y="487" width="3" height="1" fill="#4a4a4a"/>
<text x="1812.4" y="491.5" font-size="11" fill="#555">4.200</text>
<rect x="1807" y="527" width="3" height="1" fill="#4a4a4a"/>
<text x="1812.4" y="531.5" font-size="11" fill="#555">4.000</text>
<rect x="1807" y="558" width="3" height="1" fill="#4a4a4a"/>
<text x="1812.4" y="562.5" font-size="11" fill="#555">3.850</text>
<rect x="1807" y="590" width="3" height="1" fill="#4a4a4a"/>
<text x="1812.4" y="594.5" font-size="11" fill="#555">3.700</text>
<rect x="1807" y="624" width="3" height="1" fill="#4a4a4a"/>
<text x="1812.4" y="628.5" font-size="11" fill="#555">3.550</text>
<rect x="1807" y="652" width="3" height="1" fill="#4a4a4a"/>
<text x="1812.4" y="656.5" font-size="11" fill="#555">3.430</text>
<rect x="1807" y="681" width="3" height="1" fill="#4a4a4a"/>
<text x="1812.4" y="685.5" font-size="11" fill="#555">3.310</text>
<rect x="1807" y="710" width="3" height="1" fill="#4a4a4a"/>
<text x="1812.4" y="714.5" font-size="11" fill="#555">0.2000</text>
<rect x="1807" y="744" width="3" height="1" fill="#4a4a4a"/>
<text x="1812.4" y="748.5" font-size="11" fill="#555">0.0000</text>
<rect x="1807" y="778" width="3" height="1" fill="#4a4a4a"/>
<text x="1812.4" y="782.5" font-size="11" fill="#555">-0.2000</text>
<rect x="1806" y="103" width="50" height="16" fill="#800080"/>
<rect x="1806" y="111" width="3" height="1" fill="#fff"/>
<text x="1812.4" y="115.0" font-size="11" fill="#fff">44.3773</text>
<rect x="1806" y="428" width="38" height="16" fill="#0eea0e"/>
<rect x="1806" y="436" width="3" height="1" fill="#000"/>
<text x="1812.4" y="440.0" font-size="11" fill="#000">4.478</text>
<rect x="1806" y="450" width="38" height="16" fill="#0000ff"/>
<rect x="1806" y="458" width="3" height="1" fill="#fff"/>
<text x="1812.4" y="462.0" font-size="11" fill="#fff">4.357</text>
<rect x="1806" y="551" width="38" height="16" fill="#ffffff"/>
<rect x="1806" y="559" width="3" height="1" fill="#000"/>
<text x="1812.4" y="563.0" font-size="11" fill="#000">3.850</text>
<rect x="1806" y="672" width="47" height="16" fill="#000000"/>
<rect x="1806" y="680" width="3" height="1" fill="#fff"/>
<text x="1812.4" y="684.0" font-size="11" fill="#fff">4.558M</text>
<clipPath id="cv"><rect x="1806" y="693" width="57" height="10"/></clipPath><g clip-path="url(#cv)">
<rect x="1806" y="693" width="57" height="16" fill="#22b422"/>
<rect x="1806" y="701" width="3" height="1" fill="#fff"/>
<text x="1812.4" y="705.0" font-size="11" fill="#fff">384.794K</text>
</g>
<rect x="1806" y="742" width="48" height="16" fill="#ff0000"/>
<rect x="1806" y="750" width="3" height="1" fill="#fff"/>
<text x="1812.4" y="754.0" font-size="11" fill="#fff">-0.0304</text>
<rect x="1806" y="771" width="48" height="16" fill="#ff0000"/>
<rect x="1806" y="779" width="3" height="1" fill="#fff"/>
<text x="1812.4" y="783.0" font-size="11" fill="#fff">-0.2041</text>
<clipPath id="cb"><rect x="1806" y="787" width="48" height="5"/></clipPath><g clip-path="url(#cb)">
<rect x="1806" y="787" width="48" height="16" fill="#0000ff"/>
<text x="1812.4" y="799.0" font-size="11" fill="#fff">-0.2345</text>
</g>
<rect x="8" y="703" width="1855" height="1" fill="#464646"/>
</svg></body></html>
